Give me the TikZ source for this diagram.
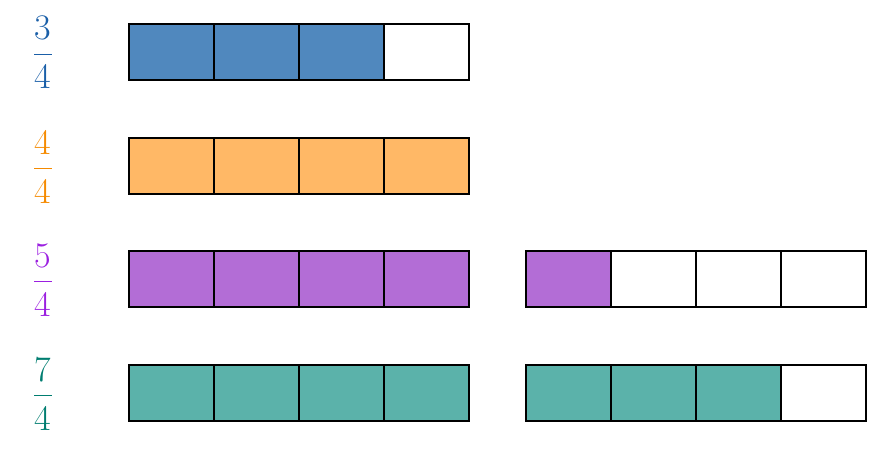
\documentclass[tikz,border=0pt]{standalone}
\begin{document}
\begin{tikzpicture}[x=1pt,y=1pt,
  cell/.style={draw=black,line width=1.2pt,minimum width=85pt,minimum height=56pt,inner sep=0pt,outer sep=0pt},
  digit/.style={inner sep=0pt,anchor=base,font=\fontsize{36}{40}\selectfont},
  fbar/.style={line width=0.8pt}]
\definecolor{bluet}{HTML}{1A5FA8}\definecolor{bluef}{HTML}{5088BE}
\definecolor{oranget}{HTML}{F58A00}\definecolor{orangef}{HTML}{FFB866}
\definecolor{purplet}{HTML}{9B1FE0}\definecolor{purplef}{HTML}{B36DD6}
\definecolor{tealt}{HTML}{007D70}\definecolor{tealf}{HTML}{5BB2AA}
\useasboundingbox (0,0) rectangle (894,448);
\foreach \i/\f in {0/bluef,1/bluef,2/bluef,3/white}
  \node[cell,fill=\f] (a\i) at (171.5+85*\i,396) {};
\foreach \i/\f in {0/orangef,1/orangef,2/orangef,3/orangef}
  \node[cell,fill=\f] (b\i) at (171.5+85*\i,282) {};
\foreach \i/\f in {0/purplef,1/purplef,2/purplef,3/purplef}
  \node[cell,fill=\f] (c\i) at (171.5+85*\i,169) {};
\foreach \i/\f in {0/purplef,1/white,2/white,3/white}
  \node[cell,fill=\f] (d\i) at (568.5+85*\i,169) {};
\foreach \i/\f in {0/tealf,1/tealf,2/tealf,3/tealf}
  \node[cell,fill=\f] (e\i) at (171.5+85*\i,55) {};
\foreach \i/\f in {0/tealf,1/tealf,2/tealf,3/white}
  \node[cell,fill=\f] (g\i) at (568.5+85*\i,55) {};
\foreach \n/\y/\c/\num in {1/396/bluet/3,2/282/oranget/4,3/169/purplet/5,4/55/tealt/7}{
  \node[digit,text=\c] (n\n) at (43,\y+12) {\num};
  \node[digit,text=\c] (d\n) at (43,\y-37) {4};
  \draw[fbar,draw=\c] (34,\y-2) -- (52,\y-2);
}
\end{tikzpicture}
\end{document}
